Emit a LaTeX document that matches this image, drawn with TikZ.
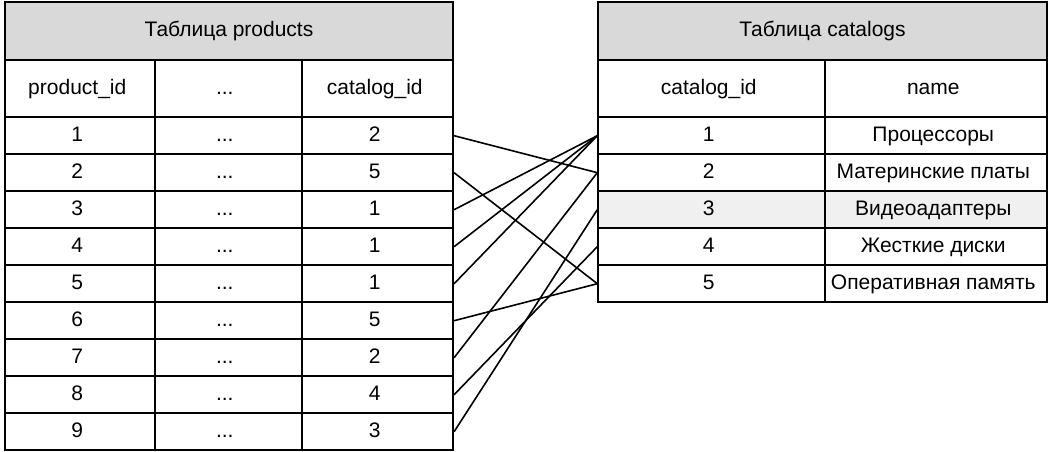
\documentclass[tikz,border=0pt]{standalone}
\usepackage{fontspec}
\setmainfont{Liberation Sans}
\usetikzlibrary{matrix}

\definecolor{headgray}{RGB}{217,217,217}
\definecolor{rowgray}{RGB}{240,240,240}
\newcommand{\tabfont}{\fontsize{21}{25}\selectfont}

\begin{document}
\begin{tikzpicture}[x=1pt, y=1pt,
    cell/.style={draw, line width=1.8pt, inner sep=0pt, align=center,
                 minimum height=37pt, font=\tabfont,
                 text height=15pt, text depth=4pt, anchor=center},
    titlebox/.style={cell, fill=headgray, minimum height=58pt},
    link/.style={line width=1.6pt}]
    \useasboundingbox (0,0) rectangle (1050,451);

    % table products
    \matrix (prod) [matrix of nodes,
            ampersand replacement=\&,
            inner sep=0pt, anchor=north west,
            nodes={cell},
            row sep=-1.8pt, column sep=-1.8pt,
            column 1/.style={nodes={minimum width=150pt}},
            column 2/.style={nodes={minimum width=147pt}},
            column 3/.style={nodes={minimum width=151pt}},
            row 1/.style={nodes={minimum height=57pt}}] at (4.1,391.9) {
      product\_id \& ... \& catalog\_id \\
      1 \& ... \& 2 \\
      2 \& ... \& 5 \\
      3 \& ... \& 1 \\
      4 \& ... \& 1 \\
      5 \& ... \& 1 \\
      6 \& ... \& 5 \\
      7 \& ... \& 2 \\
      8 \& ... \& 4 \\
      9 \& ... \& 3 \\
    };
    \node[titlebox, minimum width=448pt, anchor=south west]
      (prodtitle) at ([yshift=-1.8pt]prod.north west) {Таблица products};

    % table catalogs
    \matrix (cat) [matrix of nodes,
            ampersand replacement=\&,
            inner sep=0pt, anchor=north west,
            nodes={cell},
            row sep=-1.8pt, column sep=-1.8pt,
            column 1/.style={nodes={minimum width=227pt}},
            column 2/.style={nodes={minimum width=222pt}},
            row 1/.style={nodes={minimum height=57pt}},
            row 4/.style={nodes={fill=rowgray}}] at (597.1,391.9) {
      catalog\_id \& name \\
      1 \& Процессоры \\
      2 \& Материнские платы \\
      3 \& Видеоадаптеры \\
      4 \& Жесткие диски \\
      5 \& Оперативная память \\
    };
    \node[titlebox, minimum width=449pt, anchor=south west]
      (cattitle) at ([yshift=-1.8pt]cat.north west) {Таблица catalogs};

    % catalog_id -> catalog_id
    \foreach \p/\c in {2/3, 3/6, 4/2, 5/2, 6/2, 7/6, 8/3, 9/5, 10/4}
      \draw[link] (prod-\p-3.east) -- (cat-\c-1.west);
\end{tikzpicture}
\end{document}
